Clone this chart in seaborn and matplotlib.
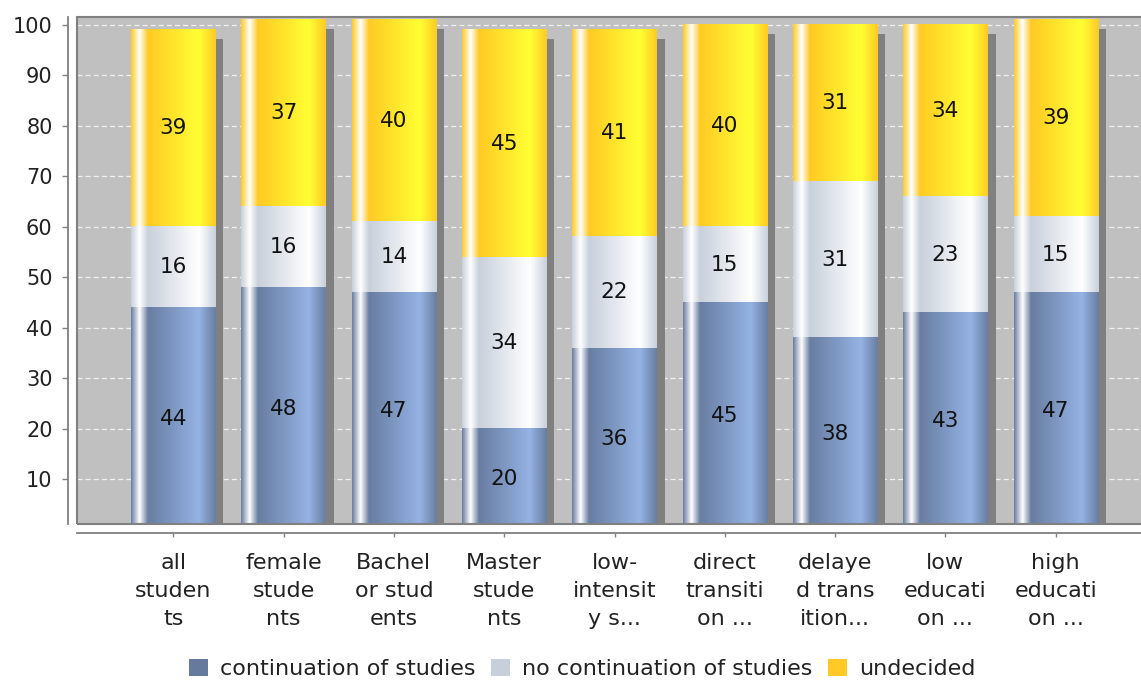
import numpy as np
import pandas as pd
import matplotlib
matplotlib.use("Agg")
import matplotlib.pyplot as plt
import seaborn as sns
from matplotlib.patches import Patch, Rectangle

# ---------------- data ----------------
categories = ["all\nstuden\nts", "female\nstude\nnts", "Bachel\nor stud\nents",
              "Master\nstude\nnts", "low-\nintensit\ny s...", "direct\ntransiti\non ...",
              "delaye\nd trans\nition...", "low\neducati\non ...", "high\neducati\non ..."]
continuation = [44, 48, 47, 20, 36, 45, 38, 43, 47]
no_continuation = [16, 16, 14, 34, 22, 15, 31, 23, 15]
undecided = [39, 37, 40, 45, 41, 40, 31, 34, 39]
series_names = ["continuation of studies", "no continuation of studies", "undecided"]
y_ticks = [10, 20, 30, 40, 50, 60, 70, 80, 90, 100]

# ---------------- style ----------------
base_colors = [(104, 125, 160), (200, 208, 220), (255, 202, 36)]
base_colors = [tuple(c / 255 for c in col) for col in base_colors]

def brighter(c):
    return tuple(min(1.0, v / 0.7) for v in c)

def gradient(c0):
    c1 = brighter(c0)
    white = (1.0, 1.0, 1.0)
    t = np.linspace(0, 1, 300)
    out = np.zeros((1, len(t), 3))
    for k, tt in enumerate(t):
        if tt < 0.1:
            a, b, f = c0, white, tt / 0.1
        elif tt < 0.2:
            a, b, f = white, c0, (tt - 0.1) / 0.1
        elif tt < 0.8:
            a, b, f = c0, c1, (tt - 0.2) / 0.6
        else:
            a, b, f = c1, c0, (tt - 0.8) / 0.2
        out[0, k] = [a[i] + (b[i] - a[i]) * f for i in range(3)]
    return out

sns.set_theme(style="white")
plt.rcParams['font.family'] = ['DejaVu Sans']
FS_Y = 15
FS_X = 16
FS_V = 15.5
FS_L = 16

fig = plt.figure(figsize=(11.41, 6.8), dpi=100)
W, H = 1141, 680
ax = fig.add_axes([77.3 / W, 1 - 524 / H, (1146.7 - 77.3) / W, (524 - 17.3) / H])
ax.set_facecolor("#c0c0c0")

c1 = np.array(continuation)
c2 = c1 + np.array(no_continuation)
c3 = c2 + np.array(undecided)
n = len(categories)
bar_w = 0.765

# shadows
dx, dy = 0.072, 1.8
ax.bar(np.arange(n) + dx, c3 - dy, width=bar_w, color="#808080", zorder=1.5, linewidth=0)

layers = [(c3, base_colors[2], 2), (c2, base_colors[1], 3), (c1, base_colors[0], 4)]
for vals, col, z in layers:
    sns.barplot(x=categories, y=vals, color=col, width=bar_w, errorbar=None,
                saturation=1, ax=ax, zorder=z, linewidth=0)
    grad = gradient(col)
    for p in ax.containers[-1]:
        bb = p.get_bbox()
        ax.imshow(grad, extent=(bb.x0, bb.x1, bb.y0, bb.y1), aspect="auto",
                  interpolation="bilinear", zorder=z + 0.5)

# value labels
bottoms = [np.zeros(n), c1, c2]
for vals, bot in zip([continuation, no_continuation, undecided], bottoms):
    for i, v in enumerate(vals):
        ax.text(i, bot[i] + v / 2, str(v), ha="center", va="center",
                fontsize=FS_V, color="#111111", zorder=10)

ax.set_xlim((77.3 - 173.3) / 110.3, (1146.7 - 173.3) / 110.3)
ax.set_ylim(1.15, 101.5)
ax.set_yticks(y_ticks)
ax.set_xticks(range(n))
ax.set_xticklabels(categories, fontsize=FS_X)
ax.set_xlabel("")
ax.set_ylabel("")

ax.yaxis.grid(True, color="#f0f0f0", linestyle=(0, (4, 2.5)), linewidth=0.9)
ax.xaxis.grid(False)
ax.set_axisbelow(True)

for s in ["top", "right"]:
    ax.spines[s].set_visible(False)
ax.spines["left"].set_position(("outward", 6.5))
ax.spines["bottom"].set_position(("outward", 6.7))
for s in ["left", "bottom"]:
    ax.spines[s].set_visible(True)
    ax.spines[s].set_color("#808080")
    ax.spines[s].set_linewidth(1.3)

ax.tick_params(axis="y", which="major", left=True, length=4.3, width=1, color="#808080",
               pad=7, labelsize=FS_Y, labelcolor="#222222")
ax.tick_params(axis="x", which="major", bottom=True, length=3, width=1, color="#808080",
               pad=11, labelsize=FS_X, labelcolor="#222222")

ax.add_patch(Rectangle((0, 0), 1, 1, transform=ax.transAxes, fill=False,
                       edgecolor="#808080", linewidth=1.5, zorder=12, clip_on=False))

handles = [Patch(facecolor=c, edgecolor="none") for c in
           [(0.40, 0.48, 0.62), (0.78, 0.81, 0.86), (1.0, 0.79, 0.15)]]
fig.legend(handles, series_names, loc="center", bbox_to_anchor=(582 / W, 1 - 669 / H),
           ncol=3, frameon=False, fontsize=FS_L, handlelength=0.85, handleheight=0.85,
           handletextpad=0.55, columnspacing=0.7, labelcolor="#222222")

fig.canvas.draw()
for lbl in ax.get_xticklabels():
    lbl.set_linespacing(1.52)

fig.savefig("out.png", dpi=100)
